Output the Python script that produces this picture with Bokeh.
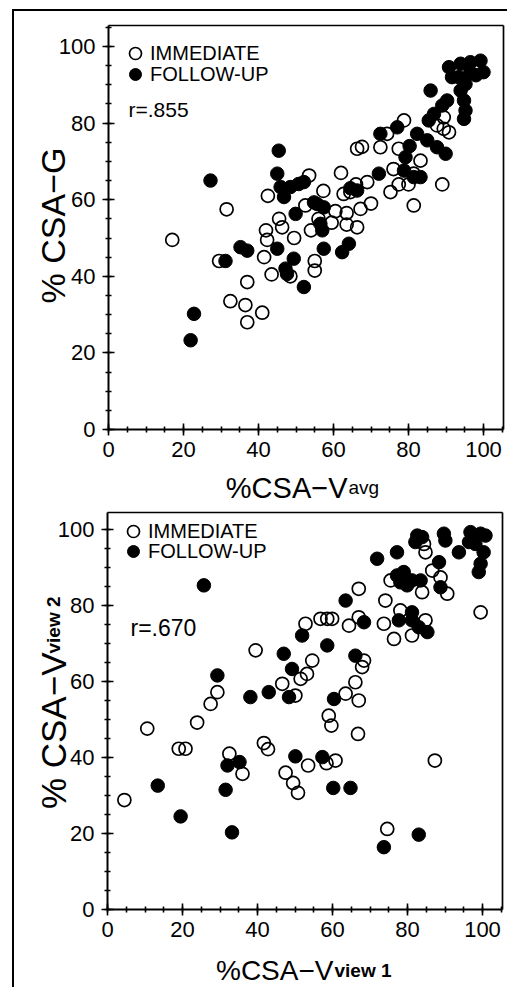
import math
from bokeh.plotting import figure
from bokeh.layouts import column
from bokeh.models import (Range1d, SingleIntervalTicker, FixedTicker, Label, Legend,
                          LegendItem, LinearAxis)
from bokeh.embed import file_html
from bokeh.resources import INLINE

# ---------------- data ----------------
# top panel: x = %CSA-Vavg, y = %CSA-G
top_imm_x = [17, 31.5, 29.5, 37, 32.5, 36.5, 37, 41, 42, 42.3, 41.5, 43.5, 48.5, 55, 55,
             49.5, 45.5, 42.5, 53.5, 52.5, 57.3, 54, 60.5, 59.5, 63.5, 63.5, 66.3, 67.2, 70,
             62, 62.7, 66, 69, 66.3, 67.6, 72.5, 75.2, 77.4, 76, 77.4, 78.8, 81.4, 80, 83.2,
             89, 87.6, 89.4, 90.8, 89.4, 74.3, 81.4, 64.5, 56, 46.3]
top_imm_y = [49.5, 57.5, 44, 38.5, 33.5, 32.5, 28, 30.5, 52, 49.5, 45, 40.5, 40, 44, 41.5,
             50, 55, 61, 66.3, 58.5, 62.3, 52, 57, 54, 56.5, 53.5, 52.8, 57.6, 59,
             67, 61.5, 64, 64.6, 73.3, 73.8, 73.7, 62, 64, 68, 73.3, 80.7, 58.5, 64, 70.2,
             64, 79.4, 78.5, 77.6, 81.5, 77.2, 66.8, 62, 55, 52.8]
top_fu_x = [22.8, 21.9, 27.2, 31.2, 35.2, 37, 45.4, 45, 45.9, 46.8, 48.5, 50.7, 52.1, 49.9,
            45, 49.4, 47.2, 47.6, 52.1, 55.6, 57.4, 56.5, 57, 57.4, 62.3, 64.1, 66.3, 72.1,
            72.5, 77, 79.2, 78.8, 81.4, 83.2, 82.3, 85, 87.6, 89.9, 85.4, 86.8, 89, 90.3,
            85.9, 93.9, 94.8, 95.2, 94.8, 90.8, 91.6, 93.9, 96.5, 99.2, 100, 96.5, 93.4,
            95.2, 64.5, 80.3, 54.8, 98]
top_fu_y = [30.2, 23.3, 65, 44, 47.6, 46.7, 72.8, 66.8, 63.3, 60.7, 63.3, 64.1, 64.6, 56.3,
            47.2, 44.6, 42, 40.6, 37.2, 58.9, 58, 53.7, 52, 47.2, 46.3, 48.5, 62.4, 66.8,
            77.2, 78.9, 71.1, 67.6, 65.9, 65.9, 77.2, 75.5, 73.7, 72, 80.7, 82.4, 84.6, 85.9,
            88.5, 88.5, 85.9, 83.3, 81.1, 94.6, 92, 95.5, 95.9, 96.3, 93.3, 93.3, 92,
            90.2, 63, 74, 59.3, 92.5]

# bottom panel: x = %CSA-Vview1, y = %CSA-Vview2
bot_imm_x = [4.5, 10.6, 19, 20.8, 23.9, 27.5, 29.3, 32.5, 36, 39.5, 41.7, 42.8, 46.6, 47.5,
             49.5, 50.8, 50.1, 51.5, 53.2, 54.6, 52.8, 53.5, 56.8, 58.6, 59.9, 59, 59.7,
             60.8, 58.4, 63.5, 64.4, 66.1, 67, 67, 66.8, 67.9, 68.4, 67, 74.1, 73.7, 76.4,
             74.6, 75.5, 78.1, 81.2, 84.8, 83.9, 84.4, 84.8, 86.6, 87.3, 88.8, 90.6, 99.5]
bot_imm_y = [28.8, 47.6, 42.3, 42.3, 49.2, 54.1, 57.2, 41, 35.7, 68.2, 43.8, 42.2, 59.4, 36,
             33.3, 30.7, 56.3, 60.7, 62, 65.5, 75.2, 37.9, 76.5, 76.5, 76.5, 51, 48.4,
             39.2, 38.5, 56.8, 74.7, 59.8, 55, 84.4, 46.2, 63.8, 65.5, 76.9, 81.3, 75.2, 71.2,
             21.2, 86.6, 78.7, 72.1, 76.1, 83.5, 96.2, 94, 89.2, 39.2, 87.4, 83.1, 78.2]
bot_fu_x = [13.4, 19.5, 25.7, 29.3, 31.5, 32, 35.2, 33.2, 38.1, 43, 47, 48.4, 49.2, 50.1,
            51.9, 58.6, 57.3, 60.2, 60.4, 63.5, 64.8, 66.1, 68.4, 71.9, 73.7, 77.2, 83,
            77.2, 79, 79.9, 78.1, 81.2, 83.5, 77.7, 81.2, 81.2, 83, 85.3, 82.6, 83.9, 82.1,
            88.4, 88.8, 89.7, 90.1, 93.7, 96.8, 99.5, 100.8, 96.4, 98.1, 100.3, 99.5, 99]
bot_fu_y = [32.6, 24.5, 85.3, 61.6, 31.5, 37.9, 38.8, 20.3, 55.9, 57.2, 67.3, 55.9, 63.3, 40.3,
            72.1, 69.5, 40.1, 32, 55.4, 81.3, 32, 66.8, 75.6, 92.3, 16.4, 94, 19.7,
            87.9, 88.8, 85.3, 86.1, 86.6, 86.6, 76.1, 78.2, 76.1, 74.3, 73, 98.4, 98, 96.7,
            91.4, 84.8, 98.9, 97.1, 94, 99.3, 98.9, 98.4, 96.7, 96.2, 94, 91, 88.8]

series_labels = ["IMMEDIATE", "FOLLOW-UP"]
r_labels = ["r=.855", "r=.670"]
tick_step = 20

FONT = "Liberation Sans"
W = 507


def add_text(p, text, x, y, size, align="left", angle=0.0, bold=False):
    p.add_layout(Label(x=x, y=y, x_units="screen", y_units="screen", text=text,
                       text_font=FONT, text_font_size=size, text_align=align,
                       text_baseline="alphabetic", angle=angle, text_color="black",
                       text_font_style="bold" if bold else "normal"))


def make_panel(H, x0, x100, y0, y100, box_r, box_t, imm_x, imm_y, fu_x, fu_y, leg_pos):
    """x0/x100, y0/y100: pixel positions of the 0 and 100 values; box_r/box_t: box edges."""
    sx = (x100 - x0) / 100.0
    sy = (y0 - y100) / 100.0
    bx = (box_r - x0) / sx
    by = (y0 - box_t) / sy
    p = figure(width=W, height=H, output_backend="svg", toolbar_location=None, title=None,
               x_range=Range1d(-x0 / sx, (W - x0) / sx),
               y_range=Range1d(-(H - y0) / sy, y0 / sy), min_border=0)
    p.border_fill_color = None
    p.background_fill_color = None
    p.outline_line_color = None
    p.grid.visible = False
    xa, ya = p.xaxis[0], p.yaxis[0]
    xa.fixed_location = 0
    ya.fixed_location = 0
    xa.bounds = (0, bx)
    ya.bounds = (0, by)
    for ax in (xa, ya):
        ax.ticker = SingleIntervalTicker(interval=tick_step, num_minor_ticks=4)
        ax.axis_line_width = 2
        ax.axis_line_color = "black"
        ax.major_tick_line_width = 1.6
        ax.minor_tick_line_width = 1.6
        ax.major_tick_line_color = "black"
        ax.minor_tick_line_color = "black"
        ax.major_tick_in = 6
        ax.major_tick_out = 6
        ax.minor_tick_in = 3
        ax.minor_tick_out = 3
        ax.major_label_text_font = FONT
        ax.major_label_text_font_size = "22px"
        ax.major_label_text_color = "black"
    xa.major_label_standoff = 6
    ya.major_label_standoff = 7

    # box: top and right edges
    for loc, place, bnds in ((by, "above", (0, bx)), (bx, "right", (0, by))):
        ax = LinearAxis(fixed_location=loc, bounds=bnds,
                        ticker=FixedTicker(ticks=[], minor_ticks=[]),
                        major_label_text_font_size="0px", major_tick_in=0, major_tick_out=0,
                        minor_tick_in=0, minor_tick_out=0, axis_line_width=1.7,
                        axis_line_color="black")
        p.add_layout(ax, place)

    r_imm = p.scatter(imm_x, imm_y, marker="circle", size=13, fill_color=None,
                      line_color="black", line_width=1.7)
    r_fu = p.scatter(fu_x, fu_y, marker="circle", size=13.5, fill_color="black",
                     line_color="black", line_width=1)
    for lab, rend, (vx, vy) in zip(series_labels, (r_imm, r_fu), leg_pos):
        leg = Legend(items=[LegendItem(label=lab, renderers=[rend])], location=(vx, vy),
                     glyph_width=30, glyph_height=30, label_standoff=0, padding=0, margin=0,
                     border_line_color=None, background_fill_alpha=0,
                     label_text_font=FONT, label_text_font_size="20px",
                     label_text_color="black", label_height=20)
        p.add_layout(leg)
    return p


# ---- top panel (canvas 507 x 503) ----
H1 = 503
p1 = make_panel(H1, 108, 483, 429, 46, 503, 25, top_imm_x, top_imm_y, top_fu_x, top_fu_y,
                [(120, H1 - 68), (120, H1 - 89)])
add_text(p1, r_labels[0], 128, H1 - 109, "21px")
add_text(p1, "% CSA\u2212G", 52, H1 - 225, "34px", align="center", angle=math.pi / 2)
add_text(p1, "%CSA\u2212V", 347, H1 - 487, "29px", align="right")
add_text(p1, "avg", 348, H1 - 487, "19px", align="left")

# ---- bottom panel (canvas 507 x 484, starts at y=503) ----
T2 = 503
H2 = 987 - T2
p2 = make_panel(H2, 107, 482, 909 - T2, 529 - T2, 502, 512 - T2,
                bot_imm_x, bot_imm_y, bot_fu_x, bot_fu_y,
                [(118, H2 - (531 - T2 + 15)), (118, H2 - (551 - T2 + 15))])
add_text(p2, r_labels[1], 130, H2 - (627 - T2), "23px")
add_text(p2, "% CSA\u2212V", 53, H2 - (652 - T2), "35px", align="right", angle=math.pi / 2)
add_text(p2, "view 2", 53, H2 - (653 - T2), "19px", align="left", angle=math.pi / 2, bold=True)
add_text(p2, "%CSA\u2212V", 333, H2 - (970 - T2), "28px", align="right")
add_text(p2, "view 1", 334, H2 - (970 - T2), "19px", align="left", bold=True)

layout = column(p1, p2, spacing=0, styles={
    "background": "linear-gradient(#000,#000) 12px 9px / 2px 978px no-repeat, "
                  "linear-gradient(#000,#000) 12px 9px / 495px 2px no-repeat, white"})

open("out.html", "w").write(file_html(layout, INLINE))
